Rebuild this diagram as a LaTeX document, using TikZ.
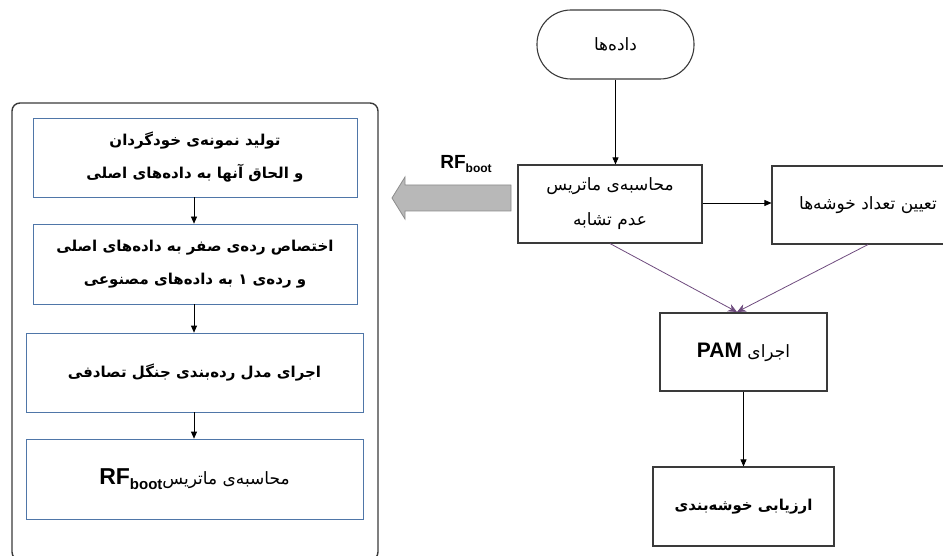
\documentclass[tikz,border=0pt]{standalone}
\usepackage{fontspec}
\usetikzlibrary{arrows.meta}
\TeXXeTstate=1
\newfontfamily\fa[Script=Arabic]{DejaVu Sans}
\newfontfamily\en{Liberation Sans}
\definecolor{boxblue}{HTML}{4F76A8}
\definecolor{edgegray}{HTML}{3A3A3A}
\definecolor{linkpurple}{HTML}{6E4B7E}
\definecolor{arrowfill}{HTML}{B8B8B8}
\definecolor{arrowedge}{HTML}{8C8C8C}
\newcommand{\zw}{^^^^200c}
% #1 size of RF, #2 size of boot
\newcommand{\rfboot}[2]{{\en\bfseries\fontsize{#1}{#1}\selectfont RF\raisebox{-0.45ex}{\fontsize{#2}{#2}\selectfont boot}}}

\begin{document}
\begin{tikzpicture}[x=1pt, y=-1pt,
   flow/.style={draw=edgegray, line width=1.1pt, align=center,
                font=\fa\fontsize{17}{35}\selectfont},
   sub/.style={draw=boxblue, line width=0.7pt, align=center,
               font=\fa\bfseries\fontsize{15}{33}\selectfont},
   link/.style={-{Triangle[length=7pt,width=6pt]}, line width=0.7pt},
   merge/.style={draw=linkpurple, line width=0.8pt, -{Stealth[length=9pt,width=8pt]}}]

\useasboundingbox (0,0) rectangle (943,556);

% left panel
\draw[edgegray, line width=1.4pt, rounded corners=8pt] (12,103) rectangle (378,560);
\node[sub, minimum width=324pt, minimum height=79pt] (boot) at (195,157.5)
   {\beginR تولید نمونه\zw ی خودگردان\endR\\\beginR و الحاق آنها به داده\zw های اصلی\endR};
\node[sub, minimum width=324pt, minimum height=80pt] (label) at (195,264)
   {\beginR اختصاص رده\zw ی صفر به داده\zw های اصلی\endR\\\beginR و رده\zw ی ۱ به داده\zw های مصنوعی\endR};
\node[sub, minimum width=337pt, minimum height=79pt] (forest) at (194.5,372.5)
   {\beginR اجرای مدل رده\zw بندی جنگل تصادفی\endR};
\node[sub, minimum width=337pt, minimum height=80pt, font=\fa\fontsize{17}{33}\selectfont] (rfmat) at (194.5,479)
   {\beginR محاسبه\zw ی ماتریس\beginL\rfboot{23}{15}\endL\endR};

\draw[link] (boot.south -| 194,0) -- (label.north -| 194,0);
\draw[link] (label.south -| 194,0) -- (forest.north -| 194,0);
\draw[link] (forest.south -| 194,0) -- (rfmat.north -| 194,0);

% right flow
\node[flow, rounded corners=34pt, minimum width=157pt, minimum height=69pt] (data) at (615.5,44.5)
   {\beginR داده\zw ها\endR};
\node[flow, minimum width=184pt, minimum height=78pt] (dissim) at (610,204)
   {\beginR محاسبه\zw ی ماتریس\endR\\\beginR عدم تشابه\endR};
\node[flow, minimum width=192pt, minimum height=78pt] (nclust) at (868,205)
   {\beginR تعیین تعداد خوشه\zw ها\endR};
\node[flow, minimum width=167pt, minimum height=78pt] (pam) at (743.5,352)
   {\beginR اجرای \beginL{\en\bfseries\fontsize{21}{24}\selectfont PAM}\endL\endR};
\node[flow, minimum width=181pt, minimum height=79pt, font=\fa\bfseries\fontsize{15}{33}\selectfont] (eval) at (743.5,506.5)
   {\beginR ارزیابی خوشه\zw بندی\endR};
\coordinate (meet) at (737,312);

\draw[link] (data.south) -- (data.south |- dissim.north);
\draw[link] (dissim.east |- 0,203) -- (nclust.west |- 0,203);
\draw[merge] (dissim.south) -- (meet);
\draw[merge] (nclust.south) -- (meet);
\draw[link] (pam.south) -- (eval.north);

% RF_boot output arrow
\draw[arrowedge, fill=arrowfill, line width=0.8pt]
   (392,198) -- (405,177) -- (405,185) -- (511,185) -- (511,211) -- (405,211) -- (405,219) -- cycle;
\node (rflabel) at (466,164) {\rfboot{19}{12}};

\end{tikzpicture}
\end{document}
